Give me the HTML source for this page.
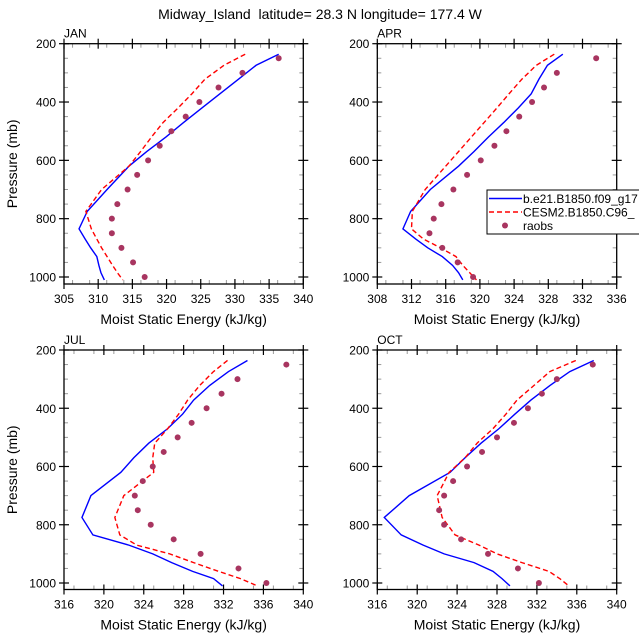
<!DOCTYPE html>
<html><head><meta charset="utf-8"><style>
body{margin:0;background:#fff;}
svg{display:block;font-family:"Liberation Sans",sans-serif;}
</style></head><body>
<svg id="chart" width="639" height="639" viewBox="0 0 639 639">
<text x="320" y="19" font-size="14" text-anchor="middle" style="white-space:pre" xml:space="preserve">Midway_Island  latitude= 28.3 N longitude= 177.4 W</text>
</svg>
<script>
const levels=[236,274,322,372,420,470,520,570,620,700,775,835,870,900,930,960,985,1010];
const obsLevels=[250,300,350,400,450,500,550,600,650,700,750,800,850,900,950,1000];
const months=['JAN','APR','JUL','OCT'];
const janBlue=[336.4,333.1,330.5,327.8,325.2,322.5,319.9,317.1,314.5,311.3,308.4,307.2,308.1,308.9,309.8,310.1,310.4,310.9];
const janRed=[331.5,328.4,325.6,323.7,321.7,319.5,317.8,316.2,314.5,310.5,308.2,309.0,309.8,310.5,311.3,312.1,312.8,313.6];
const janObs=[336.4,331.1,327.6,324.8,322.8,320.7,319.0,317.3,315.7,314.3,312.8,312.0,312.0,313.4,315.1,316.8];
const aprBlue=[329.7,327.9,326.9,326.0,324.5,322.8,321.0,319.3,317.5,314.2,311.9,311.0,312.5,313.9,315.6,316.8,317.5,318.0];
const aprRed=[328.7,326.6,324.9,323.4,322.0,320.5,319.0,317.5,316.0,313.6,312.1,312.0,313.4,315.4,317.2,318.0,318.8,319.6];
const aprObs=[333.6,329.0,327.5,326.1,324.6,323.1,321.7,320.1,318.5,316.9,315.5,314.6,314.1,315.6,317.4,319.2];
const julBlue=[334.4,332.5,330.6,329.0,327.9,326.4,324.5,323.0,321.7,318.7,317.8,318.9,322.5,324.9,326.8,328.9,331.0,331.9];
const julRed=[332.4,331.0,329.6,328.4,327.5,326.4,325.1,324.9,325.0,322.0,321.1,321.6,323.3,326.6,329.0,331.5,333.7,335.4];
const julObs=[338.3,333.4,331.8,330.3,328.8,327.4,326.0,324.9,323.9,323.1,323.4,324.7,327.0,329.7,333.5,336.3];
const octBlue=[337.7,335.3,333.3,331.4,329.8,328.2,326.4,324.8,323.3,319.2,316.7,318.4,320.6,322.7,325.7,327.6,328.5,329.3];
const octRed=[335.9,333.3,331.7,330.0,328.9,327.6,326.0,324.8,323.2,322.0,322.5,323.8,326.2,328.0,330.5,333.2,334.3,335.2];
const octObs=[337.6,334.0,332.5,331.1,329.7,328.0,326.5,325.0,323.6,322.7,322.2,322.7,324.4,327.1,330.1,332.2];
const pTicks=[200,400,600,800,1000];
const janX=[305,310,315,320,325,330,335,340];
const aprX=[308,312,316,320,324,328,332,336];
const julX=[316,320,324,328,332,336,340];
const octX=[316,320,324,328,332,336,340];

const NS='http://www.w3.org/2000/svg';
const svg=document.getElementById('chart');
function mk(tag,attrs,parent){const e=document.createElementNS(NS,tag);for(const k in attrs)e.setAttribute(k,attrs[k]);(parent||svg).appendChild(e);return e;}

const panels=[
 {name:months[0],x0:64,x1:303.3,y200:43.7,y1000:277,yb:284,xt:janX,minor:2.5,b:janBlue,r:janRed,o:janObs},
 {name:months[1],x0:377.3,x1:616.7,y200:43.7,y1000:277,yb:284,xt:aprX,minor:2,b:aprBlue,r:aprRed,o:aprObs},
 {name:months[2],x0:64,x1:303.3,y200:350,y1000:583,yb:589.5,xt:julX,minor:2,b:julBlue,r:julRed,o:julObs},
 {name:months[3],x0:377.3,x1:616.7,y200:350,y1000:583,yb:589.5,xt:octX,minor:2,b:octBlue,r:octRed,o:octObs}
];
panels.forEach((P,i)=>{
 const g=mk('g',{});
 
 
 const xmin=P.xt[0],xmax=P.xt[P.xt.length-1];
 const X=v=>P.x0+(v-xmin)/(xmax-xmin)*(P.x1-P.x0);
 const Y=p=>P.y200+(p-200)/800*(P.y1000-P.y200);
 const top=P.y200,bot=P.yb;
 for(let p=250;p<1024;p+=50){if(p%200===0)continue;const y=Y(p);
  mk('line',{x1:P.x0,x2:P.x0+4,y1:y,y2:y,stroke:'#999','stroke-width':1},g);
  mk('line',{x1:P.x1,x2:P.x1-4,y1:y,y2:y,stroke:'#999','stroke-width':1},g);}
 for(let v=xmin+P.minor/2;v<xmax;v+=P.minor){if(P.xt.some(t=>Math.abs(t-v)<1e-6))continue;const x=X(v);
  mk('line',{x1:x,x2:x,y1:top,y2:top+4,stroke:'#999','stroke-width':1},g);
  mk('line',{x1:x,x2:x,y1:bot,y2:bot-4,stroke:'#999','stroke-width':1},g);}
 mk('rect',{x:P.x0,y:top,width:P.x1-P.x0,height:bot-top,fill:'none',stroke:'#000','stroke-width':1.3},g);
 pTicks.forEach(p=>{const y=Y(p);
  mk('line',{x1:P.x0-5,x2:P.x0+5,y1:y,y2:y,stroke:'#000','stroke-width':1.2},g);
  mk('line',{x1:P.x1-5,x2:P.x1+5,y1:y,y2:y,stroke:'#000','stroke-width':1.2},g);
  const t=mk('text',{x:P.x0-8,y:y+4.5,'font-size':12,'text-anchor':'end'},g);t.textContent=p;
  
  });
 P.xt.forEach(v=>{const x=X(v);
  mk('line',{x1:x,x2:x,y1:top-5,y2:top+5,stroke:'#000','stroke-width':1.2},g);
  mk('line',{x1:x,x2:x,y1:bot-5,y2:bot+5,stroke:'#000','stroke-width':1.2},g);
  const t=mk('text',{x:x,y:bot+19,'font-size':12,'text-anchor':'middle'},g);t.textContent=v;
  
  });
 const lab=mk('text',{x:P.x0,y:top-6,'font-size':12},g);lab.textContent=P.name;
 
 
 const xt=mk('text',{x:(P.x0+P.x1)/2,y:bot+40,'font-size':14,'text-anchor':'middle'},g);xt.textContent='Moist Static Energy (kJ/kg)';
 
 
 if(P.x0<100){const cy=(top+bot)/2;const yt=mk('text',{x:17,y:cy,'font-size':14,'text-anchor':'middle',transform:'rotate(-90 17 '+cy+')'},g);yt.textContent='Pressure (mb)';
  
  }
 const bl=mk('polyline',{points:levels.map((p,k)=>X(P.b[k])+','+Y(p)).join(' '),fill:'none',stroke:'#0000ff','stroke-width':1.4},g);
 
 
 const rl=mk('polyline',{points:levels.map((p,k)=>X(P.r[k])+','+Y(p)).join(' '),fill:'none',stroke:'#ff0000','stroke-width':1.4,'stroke-dasharray':'5,3'},g);
 
 
 obsLevels.forEach((p,k)=>{const c=mk('circle',{cx:X(P.o[k]),cy:Y(p),r:3,fill:'#a83560'},g);
  
  });
});
const lg=mk('g',{});


mk('rect',{x:487,y:190,width:160,height:44,fill:'#fff',stroke:'#000','stroke-width':1},lg);
mk('line',{x1:489,x2:522,y1:198.5,y2:198.5,stroke:'#0000ff','stroke-width':1.4},lg);
mk('line',{x1:489,x2:522,y1:212,y2:212,stroke:'#ff0000','stroke-width':1.4,'stroke-dasharray':'5,3'},lg);
mk('circle',{cx:505,cy:225.5,r:3,fill:'#a83560'},lg);
[['b.e21.B1850.f09_g17',203],['CESM2.B1850.C96_',216.5],['raobs',230]].forEach(([s,y])=>{
 const t=mk('text',{x:523,y:y,'font-size':12},lg);t.textContent=s;
 
 });
</script>
</body></html>
